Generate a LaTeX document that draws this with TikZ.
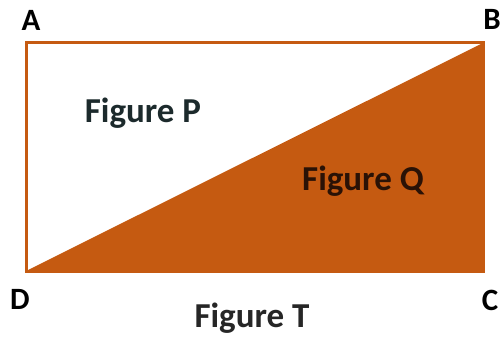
\documentclass[tikz,border=0pt]{standalone}
\usepackage{fontspec}
\setmainfont{Carlito}
\definecolor{qorange}{HTML}{C55A11}
\definecolor{ptext}{HTML}{1C2A2C}
\definecolor{qtext}{HTML}{2A1206}
\begin{document}
\begin{tikzpicture}[x=1pt,y=-1pt,
  vlabel/.style={font=\bfseries\fontsize{31}{34}\selectfont, text=black, inner sep=0pt},
  flabel/.style={font=\bfseries\fontsize{35}{38}\selectfont, inner sep=0pt}]
\useasboundingbox (0,0) rectangle (501,337);
\coordinate (A) at (26,43);
\coordinate (B) at (483,43);
\coordinate (C) at (483,271);
\coordinate (D) at (26,271);
\fill[qorange] (D) -- (B) -- (C) -- cycle;
\draw[qorange, line width=3pt] (A) rectangle (C);
\node[vlabel] (lA) at (31,20) {A};
\node[vlabel] (lB) at (492,19) {B};
\node[vlabel] (lD) at (20,299) {D};
\node[vlabel] (lC) at (490,300) {C};
\node[flabel, text=ptext] (fP) at (143,113) {Figure P};
\node[flabel, text=qtext] (fQ) at (363,181) {Figure Q};
\node[flabel, text=black!85] (fT) at (252,318) {Figure T};
\end{tikzpicture}
\end{document}
